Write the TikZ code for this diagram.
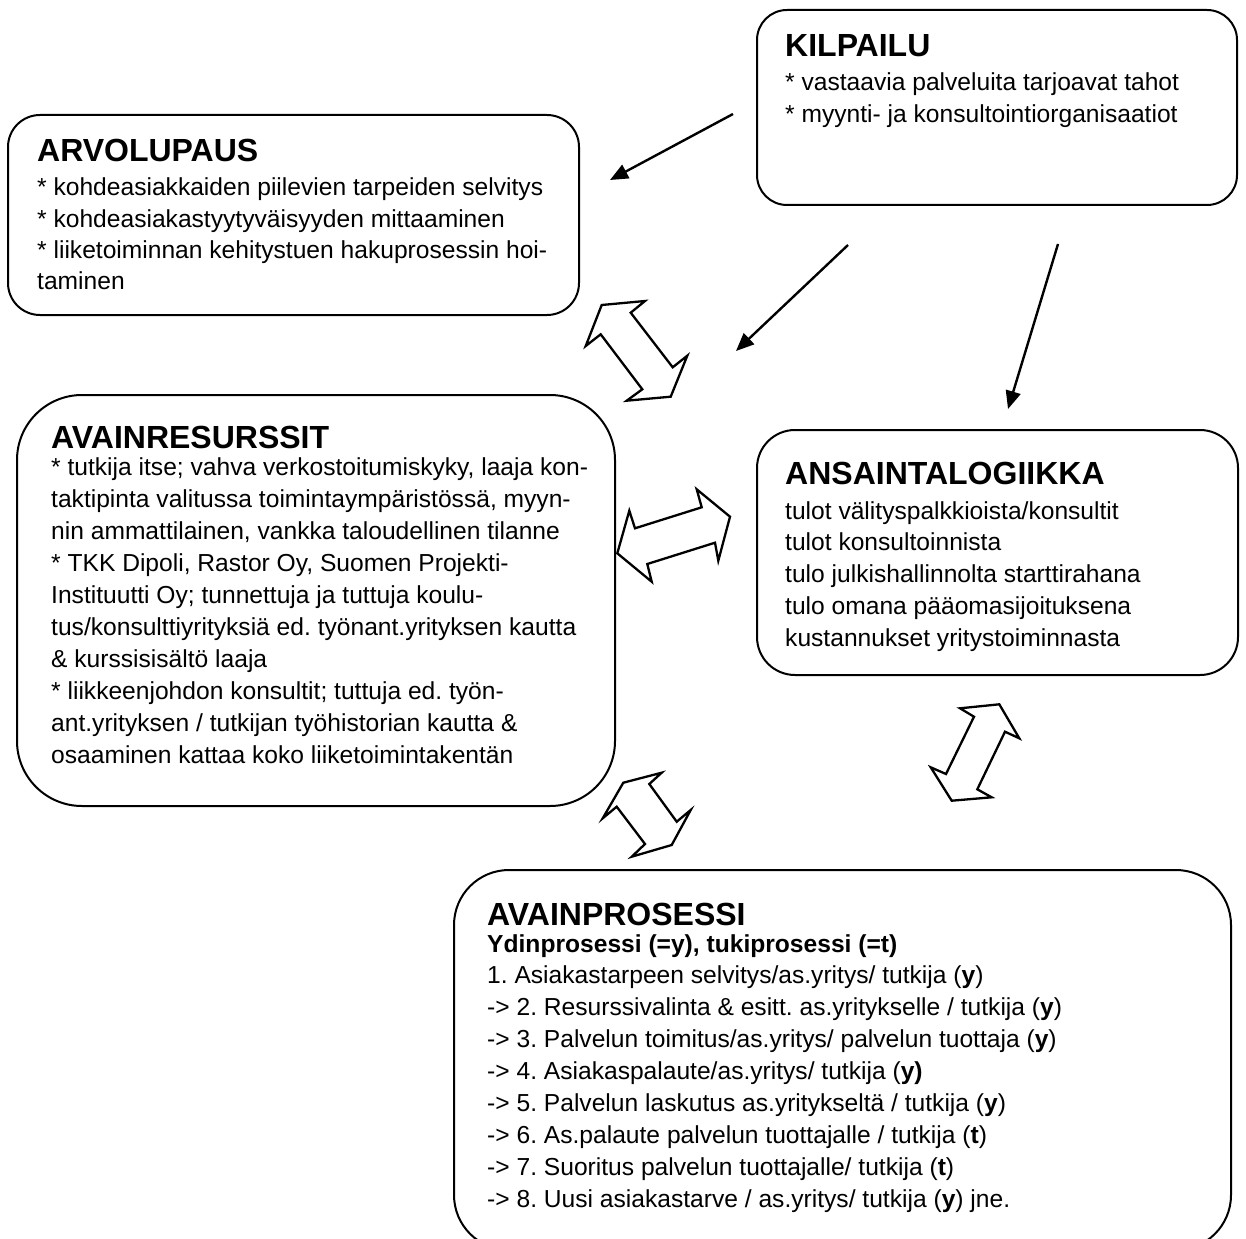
\documentclass[tikz,border=0pt]{standalone}
\usepackage{fontspec}
\setmainfont{Liberation Sans}
\usetikzlibrary{arrows.meta}
\frenchspacing

\begin{document}
\begin{tikzpicture}[x=1pt,y=-1pt,
  panel/.style={draw, line width=2pt, rectangle, inner sep=0pt},
  ttl/.style={anchor=base west, inner sep=0pt, font=\fontsize{32}{36}\selectfont\bfseries},
  txt/.style={anchor=base west, inner sep=0pt, font=\fontsize{24.6}{30}\selectfont},
  pointer/.style={line width=2.4pt, -{Triangle[length=18pt,width=15pt]}},
  blockarrow/.style={draw, fill=white, line width=2.3pt, line join=miter}]
\useasboundingbox (0,0) rectangle (1246,1238);

% ---- panels ----
\node[panel, minimum width=480pt, minimum height=195pt, rounded corners=30pt] (kil) at (997,107.5) {};
\node[panel, minimum width=571pt, minimum height=200pt, rounded corners=32pt] (arv) at (293.5,215) {};
\node[panel, minimum width=598pt, minimum height=411pt, rounded corners=65pt] (res) at (316,600.5) {};
\node[panel, minimum width=481pt, minimum height=245pt, rounded corners=38pt] (ans) at (997.5,552.5) {};
\node[panel, minimum width=777pt, minimum height=380pt, rounded corners=55pt] (pro) at (842.5,1060) {};

% ---- KILPAILU ----
\node[ttl] (kil-t) at (785,57) {KILPAILU};
\foreach \s [count=\i] in {
  {* vastaavia palveluita tarjoavat tahot},
  {* myynti- ja konsultointiorganisaatiot}}
  \node[txt] (kil-\i) at (785,{91+31.5*(\i-1)}) {\s};

% ---- ARVOLUPAUS ----
\node[ttl] (arv-t) at (37,162) {ARVOLUPAUS};
\foreach \s [count=\i] in {
  {* kohdeasiakkaiden piilevien tarpeiden selvitys},
  {* kohdeasiakastyytyväisyyden mittaaminen},
  {* liiketoiminnan kehitystuen hakuprosessin hoi-},
  {taminen}}
  \node[txt] (arv-\i) at (37,{196+31.3*(\i-1)}) {\s};

% ---- AVAINRESURSSIT ----
\node[ttl] (res-t) at (51,448) {AVAINRESURSSIT};
\foreach \s [count=\i] in {
  {* tutkija itse; vahva verkostoitumiskyky, laaja kon-},
  {taktipinta valitussa toimintaympäristössä, myyn-},
  {nin ammattilainen, vankka taloudellinen tilanne},
  {* TKK Dipoli, Rastor Oy, Suomen Projekti-},
  {Instituutti Oy; tunnettuja ja tuttuja koulu-},
  {tus/konsulttiyrityksiä ed. työnant.yrityksen kautta},
  {\& kurssisisältö laaja},
  {* liikkeenjohdon konsultit; tuttuja ed. työn-},
  {ant.yrityksen / tutkijan työhistorian kautta \&},
  {osaaminen kattaa koko liiketoimintakentän}}
  \node[txt] (res-\i) at (51,{475+32*(\i-1)}) {\s};

% ---- ANSAINTALOGIIKKA ----
\node[ttl] (ans-t) at (785,484) {ANSAINTALOGIIKKA};
\foreach \s [count=\i] in {
  {tulot välityspalkkioista/konsultit},
  {tulot konsultoinnista},
  {tulo julkishallinnolta starttirahana},
  {tulo omana pääomasijoituksena},
  {kustannukset yritystoiminnasta}}
  \node[txt] (ans-\i) at (785,{519+31.8*(\i-1)}) {\s};

% ---- AVAINPROSESSI ----
\node[ttl] (pro-t) at (487,925) {AVAINPROSESSI};
\node[txt, font=\fontsize{24.6}{30}\selectfont\bfseries] (pro-h) at (487,952) {Ydinprosessi (=y), tukiprosessi (=t)};
\foreach \s [count=\i] in {
  {1. Asiakastarpeen selvitys/as.yritys/ tutkija (\textbf{y})},
  {-> 2. Resurssivalinta \& esitt. as.yritykselle / tutkija (\textbf{y})},
  {-> 3. Palvelun toimitus/as.yritys/ palvelun tuottaja (\textbf{y})},
  {-> 4. Asiakaspalaute/as.yritys/ tutkija (\textbf{y)}},
  {-> 5. Palvelun laskutus as.yritykseltä / tutkija (\textbf{y})},
  {-> 6. As.palaute palvelun tuottajalle / tutkija (\textbf{t})},
  {-> 7. Suoritus palvelun tuottajalle/ tutkija (\textbf{t})},
  {-> 8. Uusi asiakastarve / as.yritys/ tutkija (\textbf{y}) jne.}}
  \node[txt] (pro-\i) at (487,{983+32*(\i-1)}) {\s};

% ---- competition pointers ----
\coordinate (p1s) at (733,114);  \coordinate (p1e) at (610,180);
\coordinate (p2s) at (848,245);  \coordinate (p2e) at (736,351);
\coordinate (p3s) at (1058,244); \coordinate (p3e) at (1008,409);
\draw[pointer] (p1s) -- (p1e);
\draw[pointer] (p2s) -- (p2e);
\draw[pointer] (p3s) -- (p3e);

% ---- two-way block arrows ----
% ARVOLUPAUS <-> AVAINRESURSSIT
\draw[blockarrow] (601.7,305) -- (645,301) -- (630.7,312.7) -- (672.7,367.3) -- (687.3,355.7)
  -- (670.7,396.7) -- (626.7,400.7) -- (642.3,389.3) -- (600.7,334.3) -- (585.7,346) -- cycle;
% AVAINRESURSSIT <-> ANSAINTALOGIIKKA
\draw[blockarrow] (629.3,510.7) -- (635,528.3) -- (701.7,507.3) -- (696.7,489.3) -- (730,516.7)
  -- (718.3,560.7) -- (715,542.7) -- (647.3,564) -- (651.7,581.7) -- (617.3,553.3) -- cycle;
% AVAINRESURSSIT <-> AVAINPROSESSI
\draw[blockarrow] (623.3,782.7) -- (661.7,772.7) -- (649.3,784) -- (676.7,821.7) -- (690.7,810)
  -- (671.7,845) -- (631.7,856.7) -- (645,844) -- (616.7,806.7) -- (602.7,818.3) -- cycle;
% ANSAINTALOGIIKKA <-> AVAINPROSESSI
\draw[blockarrow] (960,708.3) -- (999.3,704.3) -- (1019.3,738.3) -- (1005,731.7) -- (977.3,789.3)
  -- (991.7,797.3) -- (951.7,800.7) -- (930.7,767.3) -- (946,774) -- (974,716.7) -- cycle;
\end{tikzpicture}
\end{document}
